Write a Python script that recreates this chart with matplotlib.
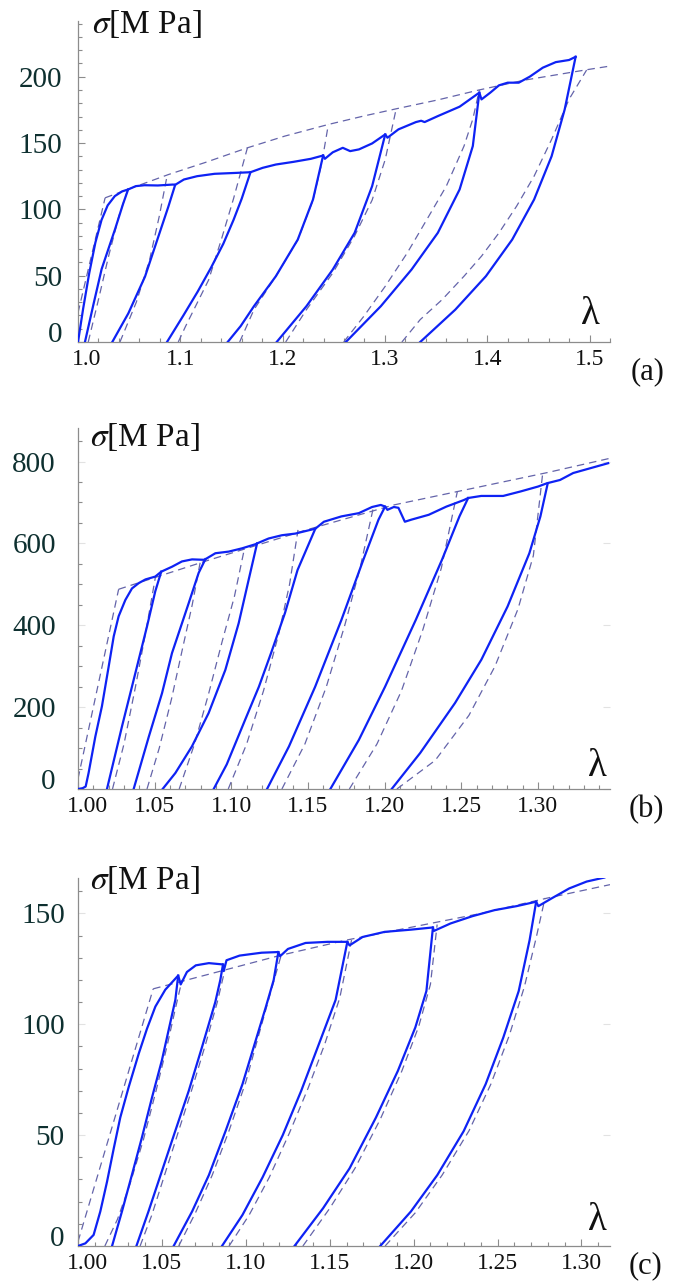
import matplotlib
matplotlib.use("Agg")
import matplotlib.pyplot as plt
import matplotlib.transforms as mtransforms
from matplotlib.ticker import MultipleLocator, FormatStrFormatter

plt.rcParams['font.family'] = ['Liberation Serif', 'DejaVu Serif']
plt.rcParams['mathtext.fontset'] = 'stix'

# ---------------- panel (a) data: (lambda, sigma[MPa]) ----------------
a_env = [(1.000, 0), (1.005, 25), (1.011, 52), (1.017, 75), (1.023, 92), (1.029, 103),
         (1.036, 110), (1.043, 113.5), (1.049, 115), (1.0565, 117.5), (1.065, 118.2),
         (1.078, 118), (1.0928, 118.7), (1.095, 118.5), (1.1035, 122.5), (1.1164, 125),
         (1.1335, 126.8), (1.155, 127.5), (1.1686, 128), (1.1805, 131.3), (1.1934, 133.8),
         (1.2105, 135.8), (1.2276, 138.1), (1.2396, 140.6), (1.2413, 138.1), (1.249, 143),
         (1.2588, 146.4), (1.266, 143.9), (1.2746, 145.2), (1.2875, 149.7), (1.3003, 156.5),
         (1.3025, 154), (1.3132, 160.3), (1.3303, 165.8), (1.3354, 166.8), (1.3388, 165.8),
         (1.3517, 170.3), (1.373, 177.4), (1.3923, 188), (1.3944, 182.9), (1.403, 188),
         (1.4115, 193.5), (1.42, 195.5), (1.4308, 195.5), (1.4415, 200), (1.4543, 206.8),
         (1.467, 211), (1.48, 212.6), (1.4864, 215)]
a_c1 = [(1.0068, 0), (1.015, 28), (1.0231, 55), (1.0362, 85), (1.044, 104), (1.049, 115)]
a_c2 = [(1.0335, 0), (1.0492, 21.6), (1.0655, 49.3), (1.0785, 79.4), (1.0883, 102), (1.095, 118.5)]
a_c3 = [(1.087, 0), (1.103, 20), (1.117, 38), (1.130, 56), (1.142, 74), (1.152, 92),
        (1.160, 108), (1.1686, 128)]
a_c4 = [(1.1463, 0), (1.159, 12), (1.172, 27), (1.1934, 49.6), (1.2148, 77.2),
        (1.2297, 107.4), (1.2396, 140.6)]
a_c5 = [(1.1942, 0), (1.2233, 27), (1.249, 54.6), (1.2704, 82.3), (1.2875, 117.5),
        (1.3003, 156.5)]
a_c6 = [(1.2618, 0), (1.296, 27), (1.326, 54.6), (1.3517, 82.3), (1.373, 115),
        (1.3859, 147.7), (1.3923, 188)]
a_c7 = [(1.3345, 0), (1.3688, 24.4), (1.3987, 49.6), (1.4244, 77.2), (1.4458, 107.4),
        (1.4629, 140), (1.4757, 175.3), (1.4864, 215)]

a_m_init = [(1.000, 22), (1.0265, 108.7)]
a_m_env = [(1.0265, 108.7), (1.052, 116), (1.0886, 126.3), (1.125, 135.5), (1.1656, 146.4),
           (1.202, 155.2), (1.2447, 164), (1.28, 170.5), (1.311, 175.8), (1.3517, 182.5),
           (1.392, 190), (1.437, 197.5), (1.4992, 205.5), (1.524, 208.5)]
a_m1 = [(1.010, 0), (1.020, 32), (1.030, 65), (1.040, 95), (1.049, 115.5)]
a_m2 = [(1.041, 0), (1.057, 30), (1.070, 62), (1.0795, 95), (1.0865, 123)]
a_m3 = [(1.098, 0), (1.105, 11.6), (1.1277, 46.8), (1.1404, 78), (1.152, 108), (1.1656, 146.4)]
a_m4 = [(1.158, 0), (1.172, 24.4), (1.1934, 49.6), (1.2148, 77), (1.2297, 107),
        (1.2383, 135), (1.2447, 164)]
a_m5 = [(1.203, 0), (1.2233, 24.4), (1.249, 52), (1.2704, 80), (1.2875, 107),
        (1.3003, 137.6), (1.311, 175.8)]
a_m6 = [(1.2597, 0), (1.279, 19), (1.3003, 42), (1.3217, 67), (1.343, 95), (1.36, 117.5),
        (1.3773, 147.7), (1.3859, 168), (1.3923, 190)]
a_m7 = [(1.3166, 0), (1.3345, 16.9), (1.356, 32), (1.3773, 49.6), (1.3944, 64.7),
        (1.4115, 82.3), (1.4287, 102.4), (1.4458, 125), (1.4629, 152.7), (1.48, 183),
        (1.4971, 205)]

# ---------------- panel (b) data ----------------
b_env = [(1.000, 0), (1.003, 2), (1.005, 6), (1.0069, 39), (1.0113, 128), (1.0156, 202),
         (1.020, 299), (1.0233, 373), (1.0265, 422), (1.0309, 462), (1.0352, 490),
         (1.0396, 503), (1.044, 512), (1.0504, 519), (1.0543, 531), (1.0613, 543),
         (1.0678, 556), (1.0744, 561), (1.082, 560), (1.0831, 561.5), (1.0896, 576),
         (1.0983, 580), (1.107, 588), (1.1157, 598), (1.1168, 600), (1.1243, 612),
         (1.133, 620), (1.1417, 624), (1.1504, 632), (1.1548, 636), (1.1604, 653),
         (1.1718, 666), (1.1832, 674), (1.1918, 689), (1.1975, 694), (1.2003, 690),
         (1.2018, 682), (1.206, 689), (1.209, 687), (1.2132, 653), (1.2174, 658),
         (1.2288, 670), (1.2403, 690), (1.2517, 706), (1.2545, 711), (1.263, 716),
         (1.2773, 716), (1.2887, 727), (1.3001, 739), (1.3059, 747), (1.3144, 755),
         (1.323, 772), (1.3344, 784), (1.3458, 796)]
b_c1 = [(1.0189, 0), (1.0287, 153), (1.0374, 283), (1.045, 397), (1.0504, 483), (1.0543, 531)]
b_c2 = [(1.0363, 0), (1.0462, 128), (1.0548, 234), (1.0613, 332), (1.0722, 454),
        (1.0787, 528), (1.0831, 561.5)]
b_c3 = [(1.0552, 0), (1.0635, 39), (1.0743, 104), (1.0852, 185.5), (1.0961, 291),
        (1.1048, 405), (1.1113, 511), (1.1168, 600)]
b_c4 = [(1.0885, 0), (1.097, 60), (1.109, 169), (1.118, 250), (1.126, 333), (1.135, 430),
        (1.1432, 535), (1.1548, 636)]
b_c5 = [(1.1233, 0), (1.1376, 104), (1.1547, 250), (1.1718, 413), (1.1861, 560),
        (1.196, 658), (1.2003, 690)]
b_c6 = [(1.1646, 0), (1.1832, 120), (1.2003, 250), (1.2203, 413), (1.2374, 560),
        (1.2488, 666), (1.2545, 711)]
b_c7 = [(1.2046, 0), (1.2232, 88), (1.2459, 210), (1.2631, 316), (1.2802, 446),
        (1.2944, 576), (1.3016, 666), (1.3064, 747)]

b_m_init = [(1.000, 25), (1.0265, 488)]
b_m_env = [(1.0265, 488), (1.0834, 557), (1.149, 633), (1.206, 694), (1.263, 739),
           (1.306, 773), (1.347, 808)]
b_m1 = [(1.0225, 0), (1.030, 110), (1.0375, 250), (1.0445, 390), (1.0506, 520)]
b_m2 = [(1.045, 0), (1.053, 100), (1.061, 220), (1.068, 340), (1.0745, 450), (1.0798, 556)]
b_m3 = [(1.066, 0), (1.076, 110), (1.085, 230), (1.094, 360), (1.102, 470), (1.1086, 588)]
b_m4 = [(1.098, 0), (1.110, 110), (1.121, 240), (1.131, 380), (1.138, 500), (1.1435, 633)]
b_m5 = [(1.133, 0), (1.148, 110), (1.162, 250), (1.174, 400), (1.184, 540), (1.1925, 685)]
b_m6 = [(1.177, 0), (1.195, 110), (1.211, 240), (1.225, 390), (1.237, 540), (1.2475, 728)]
b_m7 = [(1.208, 0), (1.233, 70), (1.255, 180), (1.272, 300), (1.287, 440), (1.297, 570),
        (1.303, 768)]

# ---------------- panel (c) data ----------------
c_env = [(1.000, 0), (1.0044, 1.2), (1.0093, 5), (1.0133, 15.6), (1.0173, 29), (1.0213, 44),
         (1.0252, 58), (1.0302, 71.7), (1.0362, 86.8), (1.0411, 98), (1.0461, 108),
         (1.052, 115.6), (1.0597, 122), (1.0612, 118), (1.0649, 123.6), (1.0702, 126.6),
         (1.078, 127.6), (1.0864, 127), (1.0868, 124), (1.0885, 128.9), (1.0963, 131),
         (1.1094, 132.3), (1.1194, 132.6), (1.1204, 130.7), (1.1251, 134), (1.1356, 136.7),
         (1.1487, 137.2), (1.1605, 137.2), (1.1618, 135.6), (1.1696, 139.4), (1.1827, 141.7),
         (1.1984, 142.7), (1.2115, 143.7), (1.212, 142.1), (1.222, 145.5), (1.2351, 148.8),
         (1.2482, 151.5), (1.2613, 153.3), (1.273, 155.3), (1.2743, 153.3), (1.2822, 156.8),
         (1.2927, 161.3), (1.3031, 164.4), (1.3136, 166.2)]
c_c1 = [(1.0203, 0), (1.0262, 15.6), (1.0322, 32.3), (1.0381, 49), (1.0441, 67), (1.050, 83.8),
        (1.054, 97.4), (1.058, 111), (1.0597, 122)]
c_c2 = [(1.0348, 0), (1.042, 15.6), (1.050, 33.8), (1.058, 52), (1.066, 70), (1.074, 90),
        (1.0818, 110), (1.0848, 120), (1.0864, 127)]
c_c3 = [(1.057, 0), (1.068, 15.6), (1.078, 32), (1.088, 52), (1.098, 73), (1.106, 93),
        (1.112, 108), (1.1166, 120), (1.1194, 132.6)]
c_c4 = [(1.0858, 0), (1.098, 14), (1.110, 31), (1.122, 50), (1.133, 70), (1.143, 90),
        (1.1535, 111), (1.1605, 137.2)]
c_c5 = [(1.129, 0), (1.146, 17), (1.1618, 35), (1.1775, 57.9), (1.1906, 79), (1.201, 98.6),
        (1.2076, 115), (1.2115, 143.7)]
c_c6 = [(1.1801, 0), (1.1984, 15.6), (1.2141, 32), (1.2298, 51.8), (1.2429, 73), (1.2534, 94),
        (1.2626, 115), (1.2691, 138), (1.273, 155.3)]

c_m_init = [(1.000, 2), (1.0448, 116)]
c_m_env = [(1.0448, 116), (1.08, 123), (1.12, 131), (1.16, 138), (1.20, 144), (1.24, 150),
           (1.28, 157), (1.317, 163)]
c_m1 = [(1.016, 0), (1.0235, 12), (1.031, 28), (1.039, 48), (1.0465, 70), (1.053, 90),
        (1.058, 107), (1.062, 120)]
c_m2 = [(1.037, 0), (1.044, 14), (1.052, 33), (1.060, 52), (1.068, 71), (1.076, 91),
        (1.083, 110), (1.0875, 124.5)]
c_m3 = [(1.060, 0), (1.070, 15), (1.080, 32), (1.090, 52), (1.100, 74), (1.108, 96),
        (1.115, 115), (1.121, 131)]
c_m4 = [(1.090, 0), (1.102, 14), (1.114, 31), (1.126, 51), (1.137, 71), (1.147, 91),
        (1.156, 112), (1.163, 138)]
c_m5 = [(1.134, 0), (1.150, 17), (1.165, 35), (1.180, 57), (1.193, 79), (1.203, 99),
        (1.210, 118), (1.214, 145)]
c_m6 = [(1.183, 0), (1.201, 15), (1.217, 32), (1.233, 52), (1.246, 73), (1.257, 95),
        (1.266, 117), (1.273, 139), (1.2783, 157)]

# tick settings per panel
a_xticks = [1.0, 1.1, 1.2, 1.3, 1.4, 1.5]
a_yticks = [0, 50, 100, 150, 200]
b_xticks = [1.00, 1.05, 1.10, 1.15, 1.20, 1.25, 1.30]
b_yticks = [0, 200, 400, 600, 800]
c_xticks = [1.00, 1.05, 1.10, 1.15, 1.20, 1.25, 1.30]
c_yticks = [0, 50, 100, 150]
panel_tags = ['(a)', '(b)', '(c)']

W, H = 682, 1282
fig = plt.figure(figsize=(W / 100, H / 100), dpi=100)

SOLID = '#0e22f4'
DASH = '#6464aa'
AXC = '#8c8c8c'
YLAB = '#0e3030'


def fx(px):
    return px / W


def fy(py):
    return 1 - py / H


panels = [
    dict(rect=[fx(78), fy(342), fx(610) - fx(78), fy(21) - fy(342)],
         xlim=(1.0, 1.52), ylim=(0, 242), xt=a_xticks, yt=a_yticks, xfmt='%.1f',
         xminor=0.02, yminor=10, ypad=11.5,
         solid=[a_env, a_c1, a_c2, a_c3, a_c4, a_c5, a_c6, a_c7],
         dashed=[a_m_init, a_m_env, a_m1, a_m2, a_m3, a_m4, a_m5, a_m6, a_m7],
         sig=(92, 24), lam=(590, 315), tag=(648, 372), rticks=False),
    dict(rect=[fx(78), fy(789), fx(610) - fx(78), fy(428) - fy(789)],
         xlim=(1.0, 1.347), ylim=(0, 882), xt=b_xticks, yt=b_yticks, xfmt='%.2f',
         xminor=0.01, yminor=50, ypad=16,
         solid=[b_env, b_c1, b_c2, b_c3, b_c4, b_c5, b_c6, b_c7],
         dashed=[b_m_init, b_m_env, b_m1, b_m2, b_m3, b_m4, b_m5, b_m6, b_m7],
         sig=(90, 437), lam=(597, 766), tag=(646, 810), rticks=True),
    dict(rect=[fx(78), fy(1246), fx(610) - fx(78), fy(878) - fy(1246)],
         xlim=(1.0, 1.317), ylim=(0, 166), xt=c_xticks, yt=c_yticks, xfmt='%.2f',
         xminor=0.01, yminor=10, ypad=9.5,
         solid=[c_env, c_c1, c_c2, c_c3, c_c4, c_c5, c_c6],
         dashed=[c_m_init, c_m_env, c_m1, c_m2, c_m3, c_m4, c_m5, c_m6],
         sig=(90, 880), lam=(597, 1221), tag=(646, 1266), rticks=True),
]

shift_right = mtransforms.ScaledTranslation(9 / 100, 0, fig.dpi_scale_trans)

for i, p in enumerate(panels):
    ax = fig.add_axes(p['rect'])
    for curve in p['dashed']:
        xs = [q[0] for q in curve]
        ys = [q[1] for q in curve]
        ax.plot(xs, ys, color=DASH, lw=0.9, dashes=(6, 4), zorder=2)
    for curve in p['solid']:
        xs = [q[0] for q in curve]
        ys = [q[1] for q in curve]
        ax.plot(xs, ys, color=SOLID, lw=1.6, zorder=3, solid_joinstyle='round')
    ax.set_xlim(*p['xlim'])
    ax.set_ylim(*p['ylim'])
    for s in ['top', 'right']:
        ax.spines[s].set_visible(False)
    for s in ['left', 'bottom']:
        ax.spines[s].set_color(AXC)
        ax.spines[s].set_linewidth(0.9)
    ax.set_xticks(p['xt'])
    ax.set_yticks(p['yt'])
    ax.xaxis.set_major_formatter(FormatStrFormatter(p['xfmt']))
    ax.yaxis.set_major_formatter(FormatStrFormatter('%d'))
    ax.xaxis.set_minor_locator(MultipleLocator(p['xminor']))
    ax.yaxis.set_minor_locator(MultipleLocator(p['yminor']))
    ax.tick_params(which='both', direction='in', color=AXC, width=0.8)
    ax.tick_params(which='major', length=5)
    ax.tick_params(which='minor', length=3)
    ax.tick_params(axis='y', which='major', labelsize=21, labelcolor=YLAB, pad=p['ypad'])
    ax.tick_params(axis='x', which='major', labelsize=17, labelcolor='#111111', pad=5)
    if p['rticks']:
        ax.tick_params(axis='y', which='major', right=True, labelright=False,
                       color='#e2e2e2')
        ax.tick_params(axis='y', which='minor', right=False)
    ax.patch.set_alpha(0)
    # Mathematica-style placement: "0" sits on the axis, first x label nudged right
    ylabels = ax.get_yticklabels()
    ylabels[0].set_verticalalignment('baseline')
    xlabels = ax.get_xticklabels()
    xlabels[0].set_transform(xlabels[0].get_transform() + shift_right)
    fig.text(fx(p['sig'][0]), fy(p['sig'][1]), r'$\sigma$[M Pa]', fontsize=24,
             ha='left', va='center', color='#111111')
    fig.text(fx(p['lam'][0]), fy(p['lam'][1]), '\u03bb', fontsize=28,
             ha='center', va='center', color='#111111')
    fig.text(fx(p['tag'][0]), fy(p['tag'][1]), panel_tags[i], fontsize=22,
             ha='center', va='center', color='#111111')

fig.savefig('out.png', dpi=100)
